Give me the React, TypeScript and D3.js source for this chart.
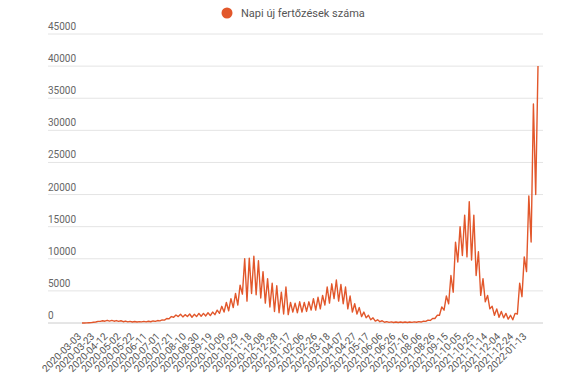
import * as d3 from 'd3'

// weekly troughs (day 7w) and peaks (day 7w + 3.5), from 2020-03-03
const weekLow = [
  0, 20, 60, 150, 250, 280, 300, 280, 250, 200,
  180, 150, 150, 170, 180, 200, 250, 330, 450, 650,
  900, 1000, 950, 1000, 900, 1000, 1050, 1100, 1150, 1300,
  1500, 1700, 1900, 2400, 2800, 4500, 3400, 4600, 4400, 3900,
  3100, 2500, 1800, 1600, 1400, 1300, 1700, 1600, 1700, 1800,
  2000, 2000, 2200, 2800, 3100, 3800, 3400, 3000, 2200, 1700,
  1400, 1000, 800, 500, 300, 200, 120, 100, 80, 70,
  70, 80, 90, 120, 150, 250, 400, 700, 1200, 2000,
  3000, 4800, 9500, 10500, 10300, 9800, 7400, 4300, 3300, 2200,
  1200, 900, 800, 600, 500, 1400, 4100, 8000, 12600, 20000
]
const weekHigh = [
  10, 50, 120, 250, 350, 420, 400, 380, 350, 300,
  260, 230, 220, 250, 280, 320, 380, 480, 700, 1000,
  1250, 1350, 1300, 1400, 1350, 1500, 1500, 1600, 1700, 2000,
  2600, 3200, 3800, 4600, 5900, 10000, 10100, 10400, 9700, 8000,
  6900, 6200, 5800, 4800, 5600, 3200, 3100, 3300, 3200, 3300,
  3800, 4000, 4300, 5600, 6100, 6700, 6000, 5600, 4200, 3000,
  2400, 1700, 1200, 800, 500, 350, 220, 180, 160, 150,
  150, 160, 180, 220, 280, 450, 700, 1200, 2500, 4200,
  7400, 12600, 15000, 16800, 18900, 16800, 11100, 6900, 4300, 2600,
  2200, 1800, 1500, 1200, 1500, 6200, 10300, 19800, 34100, 40000
]
// axis shows every 20th day
const tickLabels = [
  '2020-03-03', '2020-03-23', '2020-04-12', '2020-05-02', '2020-05-22', '2020-06-11',
  '2020-07-01', '2020-07-21', '2020-08-10', '2020-08-30', '2020-09-19', '2020-10-09',
  '2020-10-29', '2020-11-18', '2020-12-08', '2020-12-28', '2021-01-17', '2021-02-06',
  '2021-02-26', '2021-03-18', '2021-04-07', '2021-04-27', '2021-05-17', '2021-06-06',
  '2021-06-26', '2021-07-16', '2021-08-06', '2021-08-26', '2021-09-15', '2021-10-05',
  '2021-10-25', '2021-11-14', '2021-12-04', '2021-12-24', '2022-01-13'
]
const yTicks = [0, 5000, 10000, 15000, 20000, 25000, 30000, 35000, 40000, 45000]
const seriesName = 'Napi új fertőzések száma'

const W = 578
const H = 385
const COLOR = '#e2572b'
const FONT = 'Roboto, "Noto Sans", Arial, sans-serif'

export default function App() {
  const points: { day: number; v: number }[] = []
  weekLow.forEach((lo, w) => {
    points.push({ day: w * 7, v: lo })
    points.push({ day: w * 7 + 3.5, v: weekHigh[w] })
  })
  const lastDay = points[points.length - 1].day

  const x = d3.scaleLinear().domain([0, lastDay]).range([82, 538])
  const y = d3.scaleLinear().domain([0, 45000]).range([323, 34])

  const line = d3.line<{ day: number; v: number }>()
    .x(d => x(d.day))
    .y(d => y(d.v))

  return (
    <div style={{ position: 'absolute', left: 0, top: 0 }}>
      <svg width={W} height={H} style={{ display: 'block', background: '#fff' }} fontFamily={FONT}>
        {/* legend */}
        <circle cx={227} cy={13} r={5.5} fill={COLOR} />
        <text x={241} y={17} fontSize={11} fill="#555">{seriesName}</text>

        {/* grid + y labels */}
        {yTicks.map(t => (
          <g key={t}>
            <line x1={48} x2={543} y1={y(t)} y2={y(t)} stroke={t === 0 ? '#ccc' : '#e4e4e4'} strokeWidth={1} />
            <text x={48} y={y(t) - 4} fontSize={10} fill="#666">{t}</text>
          </g>
        ))}

        {/* x labels */}
        {tickLabels.map((lab, i) => {
          const tx = x(i * 20)
          return (
            <text key={lab} transform={`translate(${tx},${337}) rotate(-45)`}
              textAnchor="end" fontSize={10} fill="#555">{lab}</text>
          )
        })}

        <path d={line(points) || ''} fill="none" stroke={COLOR} strokeWidth={1.4} strokeLinejoin="round" />
      </svg>
    </div>
  )
}
